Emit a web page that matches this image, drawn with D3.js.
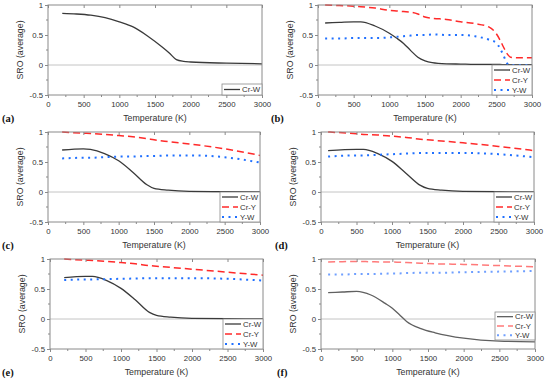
<!DOCTYPE html>
<html>
<head>
<meta charset="utf-8">
<script src="https://cdn.jsdelivr.net/npm/d3@7"></script>
<style>
  body { margin: 0; background: #fff; }
  svg { display: block; font-family: "Liberation Sans", Arial, sans-serif; }
</style>
</head>
<body>
<svg id="chart" width="550" height="381"></svg>
<script>
// temperatures (K) and SRO values
const tempA = [200, 400, 600, 800, 1000, 1200, 1400, 1600, 1700, 1800, 1900, 2000, 2500, 3000];
const crwA  = [0.86, 0.85, 0.83, 0.79, 0.72, 0.63, 0.48, 0.30, 0.20, 0.09, 0.06, 0.05, 0.03, 0.02];

const tempB = [100, 300, 500, 600, 800, 1000, 1100, 1200, 1300, 1400, 1500, 1600, 1800, 2000, 2200, 2400, 2500, 2550, 2600, 2650, 2700, 2800, 3000];
const crwB  = [0.70, 0.71, 0.72, 0.72, 0.65, 0.53, 0.45, 0.36, 0.24, 0.13, 0.07, 0.04, 0.02, 0.015, 0.01, 0.01, 0.008, 0.008, 0.007, 0.006, 0.005, 0.005, 0.005];
const cryB  = [1.0, 0.99, 0.98, 0.97, 0.95, 0.91, 0.90, 0.89, 0.88, 0.85, 0.80, 0.78, 0.76, 0.72, 0.69, 0.63, 0.52, 0.42, 0.30, 0.19, 0.13, 0.12, 0.12];
const ywB   = [0.44, 0.44, 0.45, 0.45, 0.45, 0.46, 0.47, 0.48, 0.49, 0.50, 0.50, 0.51, 0.50, 0.50, 0.48, 0.42, 0.37, 0.28, 0.16, 0.03, 0.0, 0.0, 0.0];

const tempC = [200, 500, 600, 800, 1000, 1200, 1400, 1500, 1700, 2000, 2500, 3000];
const crwC  = [0.70, 0.72, 0.71, 0.64, 0.52, 0.33, 0.12, 0.06, 0.03, 0.01, 0.005, 0.0];
const cryC  = [1.0, 0.98, 0.975, 0.96, 0.94, 0.92, 0.89, 0.87, 0.84, 0.80, 0.72, 0.61];
const ywC   = [0.56, 0.57, 0.57, 0.58, 0.59, 0.59, 0.60, 0.60, 0.61, 0.61, 0.58, 0.49];

const tempD = [100, 500, 600, 800, 1000, 1200, 1400, 1500, 1700, 2000, 2500, 3000];
const crwD  = [0.69, 0.71, 0.71, 0.64, 0.51, 0.31, 0.11, 0.06, 0.03, 0.01, 0.005, 0.0];
const cryD  = [1.0, 0.97, 0.96, 0.95, 0.93, 0.91, 0.88, 0.87, 0.85, 0.82, 0.76, 0.69];
const ywD   = [0.59, 0.61, 0.61, 0.62, 0.63, 0.64, 0.65, 0.65, 0.65, 0.65, 0.63, 0.58];

const tempE = [200, 500, 600, 800, 1000, 1200, 1400, 1500, 1700, 2000, 2500, 3000];
const crwE  = [0.69, 0.71, 0.71, 0.64, 0.51, 0.32, 0.11, 0.06, 0.03, 0.01, 0.005, 0.0];
const cryE  = [1.0, 0.98, 0.975, 0.96, 0.94, 0.92, 0.89, 0.88, 0.86, 0.83, 0.78, 0.73];
const ywE   = [0.65, 0.66, 0.66, 0.665, 0.67, 0.675, 0.68, 0.68, 0.68, 0.68, 0.67, 0.64];

const tempF = [100, 300, 500, 700, 900, 1000, 1100, 1200, 1400, 1600, 2000, 2500, 3000];
const crwF  = [0.44, 0.45, 0.46, 0.40, 0.26, 0.18, 0.07, -0.04, -0.16, -0.23, -0.32, -0.37, -0.38];
const cryF  = [0.95, 0.955, 0.96, 0.955, 0.95, 0.95, 0.945, 0.94, 0.93, 0.92, 0.91, 0.89, 0.87];
const ywF   = [0.74, 0.74, 0.75, 0.75, 0.755, 0.76, 0.76, 0.765, 0.77, 0.77, 0.78, 0.79, 0.80];

const seriesNames = ["Cr-W", "Cr-Y", "Y-W"];
const panelLabels = ["(a)", "(b)", "(c)", "(d)", "(e)", "(f)"];
const xTicks = [0, 500, 1000, 1500, 2000, 2500, 3000];
const xMinor = [250, 750, 1250, 1750, 2250, 2750];
const yTicks = [-0.5, 0, 0.5, 1];
const yMinor = [-0.25, 0.25, 0.75];

// line styles, normal and faded (panel f)
const styles = {
  "Cr-W": { color: "#3a3a3a", dash: null, width: 1.3 },
  "Cr-Y": { color: "#ff2a2a", dash: "7,4", width: 1.5 },
  "Y-W":  { color: "#2070ff", dash: "2,4.5", width: 2 }
};
const fadedColors = { "Cr-W": "#606060", "Cr-Y": "#ff7a7a", "Y-W": "#6f9fff" };

// panel placement: plot box and legend box
const layout = [
  { oy: 0,   left: 48,  right: 262, labelX: 2,   legTop: 84, legBot: 95 },
  { oy: 0,   left: 318, right: 532, labelX: 271, legTop: 65, legBot: 95 },
  { oy: 127, left: 48,  right: 260, labelX: 2,   legTop: 65, legBot: 95 },
  { oy: 127, left: 321, right: 534, labelX: 275, legTop: 65, legBot: 95 },
  { oy: 254, left: 50,  right: 263, labelX: 2,   legTop: 65, legBot: 95 },
  { oy: 254, left: 321, right: 535, labelX: 277, legTop: 58, legBot: 86 }
];

const panels = [
  { temps: tempA, series: [crwA] },
  { temps: tempB, series: [crwB, cryB, ywB] },
  { temps: tempC, series: [crwC, cryC, ywC] },
  { temps: tempD, series: [crwD, cryD, ywD] },
  { temps: tempE, series: [crwE, cryE, ywE] },
  { temps: tempF, series: [crwF, cryF, ywF], faded: true }
];

const svg = d3.select("#chart");
const plotTop = 5, plotBot = 95;
const frameColor = "#8a8a8a";
const textColor = "#333";
const sans = "Liberation Sans, Arial, sans-serif";

panels.forEach(function (p, i) {
  const L = layout[i];
  const g = svg.append("g").attr("transform", "translate(0," + L.oy + ")");

  const x = d3.scaleLinear().domain([0, 3000]).range([L.left, L.right]);
  const y = d3.scaleLinear().domain([-0.5, 1]).range([plotBot, plotTop]);

  // zero line
  g.append("line")
    .attr("x1", L.left).attr("x2", L.right)
    .attr("y1", y(0)).attr("y2", y(0))
    .attr("stroke", "#c4c4c4").attr("stroke-width", 1);

  // curves
  const line = d3.line()
    .x(function (d) { return x(d[0]); })
    .y(function (d) { return y(d[1]); })
    .curve(d3.curveMonotoneX);

  p.series.forEach(function (vals, k) {
    const name = seriesNames[k];
    const st = styles[name];
    const pts = p.temps.map(function (t, j) { return [t, vals[j]]; });
    g.append("path")
      .attr("d", line(pts))
      .attr("fill", "none")
      .attr("stroke", p.faded ? fadedColors[name] : st.color)
      .attr("stroke-width", st.width)
      .attr("stroke-dasharray", st.dash);
  });

  // frame
  g.append("rect")
    .attr("x", L.left).attr("y", plotTop)
    .attr("width", L.right - L.left).attr("height", plotBot - plotTop)
    .attr("fill", "none").attr("stroke", frameColor).attr("stroke-width", 1);

  // bottom axis
  const xAxis = g.append("g")
    .attr("transform", "translate(0," + plotBot + ")")
    .call(d3.axisBottom(x).tickValues(xTicks).tickSize(3).tickPadding(3).tickFormat(d3.format("d")));
  xAxis.select(".domain").remove();
  xAxis.selectAll("line").attr("stroke", frameColor);
  xAxis.selectAll("text").attr("font-size", 7.8).attr("fill", textColor).attr("font-family", sans);
  g.append("g").selectAll("line").data(xMinor).enter().append("line")
    .attr("x1", function (d) { return x(d); }).attr("x2", function (d) { return x(d); })
    .attr("y1", plotBot).attr("y2", plotBot + 2)
    .attr("stroke", frameColor);

  // top ticks, inward
  const xTop = g.append("g")
    .attr("transform", "translate(0," + plotTop + ")")
    .call(d3.axisTop(x).tickValues(xTicks).tickSize(-3).tickFormat(""));
  xTop.select(".domain").remove();
  xTop.selectAll("line").attr("stroke", frameColor);

  // left axis
  const yAxis = g.append("g")
    .attr("transform", "translate(" + L.left + ",0)")
    .call(d3.axisLeft(y).tickValues(yTicks).tickSize(3).tickPadding(2).tickFormat(function (d) { return String(d); }));
  yAxis.select(".domain").remove();
  yAxis.selectAll("line").attr("stroke", frameColor);
  yAxis.selectAll("text").attr("font-size", 7.8).attr("fill", textColor).attr("font-family", sans);
  g.append("g").selectAll("line").data(yMinor).enter().append("line")
    .attr("x1", L.left - 2).attr("x2", L.left)
    .attr("y1", function (d) { return y(d); }).attr("y2", function (d) { return y(d); })
    .attr("stroke", frameColor);

  // axis titles
  g.append("text")
    .attr("x", (L.left + L.right) / 2).attr("y", 121)
    .attr("text-anchor", "middle").attr("font-size", 8.8).attr("fill", textColor)
    .text("Temperature (K)");
  g.append("text")
    .attr("transform", "translate(" + (L.left - 25) + "," + ((plotTop + plotBot) / 2) + ") rotate(-90)")
    .attr("text-anchor", "middle").attr("font-size", 8.8).attr("fill", textColor)
    .text("SRO (average)");

  // panel label
  g.append("text")
    .attr("x", L.labelX).attr("y", 122)
    .attr("font-family", "Liberation Serif, Times New Roman, serif")
    .attr("font-weight", "bold").attr("font-size", 10.5).attr("fill", "#111")
    .text(panelLabels[i]);

  // legend
  const legLeft = L.right - 40;
  const leg = g.append("g");
  leg.append("rect")
    .attr("x", legLeft).attr("y", L.legTop)
    .attr("width", L.right - legLeft).attr("height", L.legBot - L.legTop)
    .attr("fill", "#fff").attr("stroke", frameColor).attr("stroke-width", 0.8);
  const n = p.series.length;
  const step = (L.legBot - L.legTop) / n;
  p.series.forEach(function (vals, k) {
    const name = seriesNames[k];
    const st = styles[name];
    const cy = L.legTop + step * (k + 0.5);
    leg.append("line")
      .attr("x1", legLeft + 2).attr("x2", legLeft + 18)
      .attr("y1", cy).attr("y2", cy)
      .attr("stroke", p.faded ? fadedColors[name] : st.color)
      .attr("stroke-width", st.width)
      .attr("stroke-dasharray", st.dash);
    leg.append("text")
      .attr("x", legLeft + 20).attr("y", cy + 2.8)
      .attr("font-size", 7.8).attr("fill", textColor)
      .text(name);
  });
});
</script>
</body>
</html>
